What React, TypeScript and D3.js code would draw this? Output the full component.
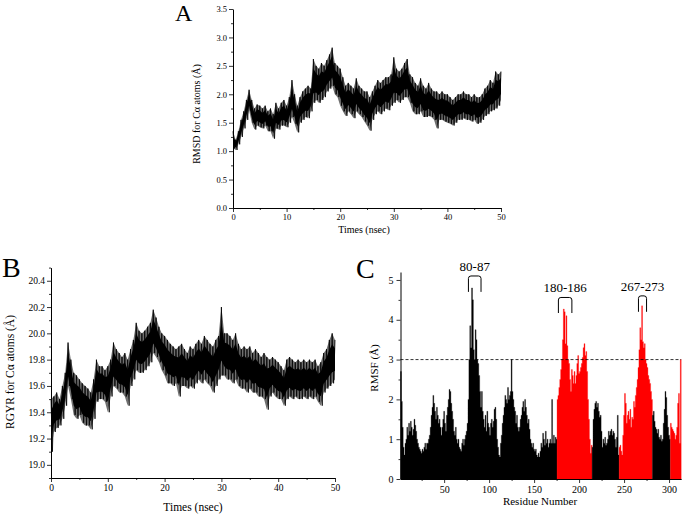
import React, { useEffect, useRef } from "react";
import * as d3 from "d3";

const FONT = "'Liberation Serif', 'Times New Roman', serif";

// ---- Panel A: RMSD local maxima (at t) and minima (at t + 0.25 ns), every 0.5 ns ----
const timeStep = 0.5;
const rmsdHi = [
  1.35, 1.20, 1.35, 1.55, 1.70, 1.90, 2.08, 1.90, 1.75, 1.82,
  1.80, 1.75, 1.80, 1.70, 1.75, 1.65, 1.85, 1.75, 1.85, 1.90,
  1.80, 1.95, 2.25, 2.00, 1.80, 1.95, 2.05, 2.10, 2.15, 2.10,
  2.62, 2.50, 2.45, 2.55, 2.50, 2.60, 2.70, 2.82, 2.55, 2.50,
  2.45, 2.30, 2.15, 2.20, 2.15, 2.10, 2.28, 2.15, 2.10, 2.05,
  2.05, 1.95, 2.05, 2.15, 2.25, 2.20, 2.25, 2.30, 2.30, 2.35,
  2.65, 2.45, 2.40, 2.45, 2.55, 2.62, 2.35, 2.30, 2.20, 2.15,
  2.28, 2.15, 2.10, 2.20, 2.10, 2.05, 2.05, 2.00, 2.05, 2.00,
  2.00, 1.95, 1.90, 1.95, 2.00, 2.00, 2.05, 2.00, 2.00, 1.95,
  2.00, 1.95, 1.95, 2.00, 2.10, 2.15, 2.25, 2.20, 2.40, 2.35,
  2.40,
];
const rmsdLo = [
  1.05, 1.02, 1.12, 1.25, 1.40, 1.55, 1.72, 1.50, 1.38, 1.45,
  1.42, 1.40, 1.45, 1.35, 1.35, 1.22, 1.40, 1.38, 1.45, 1.45,
  1.42, 1.50, 1.60, 1.48, 1.33, 1.50, 1.55, 1.60, 1.58, 1.70,
  1.85, 1.90, 1.85, 1.90, 1.95, 2.05, 2.10, 2.15, 2.00, 1.95,
  1.80, 1.70, 1.62, 1.70, 1.65, 1.58, 1.70, 1.65, 1.60, 1.52,
  1.45, 1.36, 1.55, 1.65, 1.70, 1.65, 1.70, 1.75, 1.72, 1.80,
  1.85, 1.90, 1.85, 1.90, 1.95, 1.95, 1.85, 1.70, 1.65, 1.65,
  1.70, 1.60, 1.60, 1.62, 1.60, 1.55, 1.40, 1.55, 1.55, 1.52,
  1.50, 1.48, 1.45, 1.50, 1.55, 1.55, 1.58, 1.55, 1.55, 1.52,
  1.55, 1.48, 1.50, 1.55, 1.62, 1.65, 1.70, 1.72, 1.75, 1.80,
  1.90,
];

// ---- Panel B: RGYR local maxima / minima, every 0.5 ns ----
const rgyrHi = [
  19.50, 19.52, 19.55, 19.50, 19.60, 19.70, 19.93, 19.80, 19.70, 19.68,
  19.65, 19.62, 19.60, 19.58, 19.55, 19.65, 19.80, 19.75, 19.75, 19.72,
  19.75, 19.80, 19.93, 19.88, 19.85, 19.82, 19.85, 19.80, 19.88, 19.95,
  20.08, 20.02, 20.00, 20.02, 20.05, 20.08, 20.18, 20.12, 20.05, 20.00,
  19.98, 19.95, 19.92, 19.90, 19.88, 19.90, 19.92, 19.88, 19.85, 19.90,
  19.88, 19.92, 19.95, 19.92, 19.98, 19.95, 19.92, 19.90, 19.95, 19.98,
  20.20, 20.00, 20.00, 19.98, 19.95, 20.00, 19.92, 19.88, 19.90, 19.88,
  19.90, 19.85, 19.88, 19.85, 19.82, 19.85, 19.82, 19.80, 19.82, 19.80,
  19.78, 19.75, 19.72, 19.80, 19.82, 19.80, 19.78, 19.80, 19.78, 19.80,
  19.78, 19.80, 19.78, 19.80, 19.75, 19.78, 19.85, 19.88, 19.95, 20.00,
  19.95,
];
const rgyrLo = [
  19.10, 19.25, 19.28, 19.30, 19.35, 19.45, 19.60, 19.50, 19.38, 19.35,
  19.38, 19.32, 19.30, 19.30, 19.27, 19.35, 19.48, 19.50, 19.50, 19.48,
  19.40, 19.52, 19.60, 19.58, 19.55, 19.55, 19.52, 19.45, 19.60, 19.65,
  19.72, 19.70, 19.70, 19.72, 19.75, 19.78, 19.85, 19.82, 19.78, 19.72,
  19.68, 19.62, 19.62, 19.60, 19.62, 19.52, 19.60, 19.60, 19.58, 19.60,
  19.58, 19.62, 19.65, 19.62, 19.65, 19.62, 19.60, 19.55, 19.60, 19.65,
  19.68, 19.68, 19.65, 19.65, 19.62, 19.65, 19.60, 19.58, 19.58, 19.55,
  19.58, 19.55, 19.55, 19.52, 19.52, 19.50, 19.42, 19.52, 19.55, 19.52,
  19.50, 19.50, 19.45, 19.50, 19.52, 19.50, 19.52, 19.50, 19.50, 19.52,
  19.50, 19.52, 19.50, 19.52, 19.48, 19.45, 19.55, 19.58, 19.60, 19.62,
  19.65,
];

// ---- Panel C: RMSF per residue, starting at residue 2 ----
const rmsfStart = 2;
const rmsf = [
  2.7, 1.95, 1.3, 0.8, 0.6, 0.9, 1.0, 1.3, 1.1, 1.4,
  1.2, 1.45, 1.3, 1.1, 1.25, 1.5, 1.35, 1.2, 1.0, 0.9,
  0.8, 0.75, 0.7, 0.65, 0.75, 0.7, 0.8, 0.9, 0.75, 0.9,
  0.9, 1.0, 1.1, 1.3, 1.6, 1.8, 2.1, 1.9, 1.7, 1.5,
  1.8, 1.6, 1.4, 1.5, 1.3, 1.1, 1.3, 1.5, 1.7, 1.4,
  1.2, 1.6, 1.8, 2.0, 2.25, 2.2, 1.9, 1.7, 1.5, 1.2,
  1.1, 1.3, 1.0, 0.9, 1.0, 0.8, 0.75, 0.7, 0.9, 1.0,
  0.85, 1.0, 1.1, 1.2, 1.4,
  2.0, 3.0, 3.85, 3.3, 4.8, 4.5, 3.25, 3.0, 3.75, 3.5,
  3.0, 2.9, 2.6, 2.2, 1.8,
  2.2, 1.7, 1.5, 1.3, 1.6, 1.2, 1.7, 1.4, 1.3, 1.1,
  1.4, 1.5, 1.3, 1.45, 1.75, 1.8, 1.5, 1.0, 0.8, 0.6,
  0.55, 0.9, 1.1, 1.4, 1.6, 1.8, 2.1, 2.0, 1.9, 2.3,
  2.0, 2.1, 2.2, 3.0, 2.2, 2.0, 1.8, 1.7, 1.4, 1.6,
  1.3, 1.2, 1.3, 1.5, 1.6, 1.8, 1.95, 1.7, 2.0, 1.8,
  1.6, 1.4, 1.5, 1.25, 1.0, 0.9, 0.8, 0.9, 0.75, 0.7,
  0.75, 0.6, 0.55, 0.65, 0.55, 0.7, 0.9, 0.8, 1.15, 1.0,
  0.85, 1.2, 0.9, 1.0, 0.8, 0.9, 1.0, 0.9, 2.0, 0.9,
  1.1, 0.9, 1.05, 1.0,
  2.0, 2.1, 2.3, 2.5, 2.75, 3.0, 3.5, 4.27, 4.2, 3.4,
  4.1, 3.35, 3.0, 2.9, 2.5, 2.2, 2.75, 2.6, 2.4, 2.7,
  2.4, 2.6, 2.9, 3.1, 2.65, 2.7, 2.8, 2.9, 3.05, 3.3,
  3.4, 3.1, 3.2, 2.7, 2.0, 1.5, 1.0, 0.65, 0.85, 0.8,
  1.5, 1.75, 1.9, 1.95, 1.8, 1.9, 1.7, 1.55, 1.6, 1.2,
  0.8, 1.0, 0.9, 1.05, 0.85, 0.9, 1.0, 1.2, 1.1, 1.2,
  1.25, 1.1, 1.2, 1.15, 1.0, 0.8, 1.05, 1.6, 0.6,
  0.8, 0.85, 0.7, 0.6, 1.1, 1.6, 2.15, 1.9, 1.4, 1.6,
  1.7, 1.5, 1.75, 1.3, 1.55, 1.5, 1.95, 1.8, 2.1, 2.3,
  2.5, 2.8, 3.25, 3.8, 3.5, 4.35, 3.45, 3.3, 3.4, 3.0,
  2.9, 2.8, 2.6, 2.5, 2.4, 2.2, 2.0,
  1.6, 1.7, 1.45, 1.3, 1.25, 1.15, 1.25, 1.05, 1.0, 1.1,
  0.95, 1.0, 1.4, 1.75, 2.2, 2.05, 1.6, 1.3, 1.1, 1.0,
  1.4, 1.3, 1.25, 1.2, 1.15, 1.0, 1.1, 1.3, 1.9, 2.15, 0.9, 3.0,
];
const redRanges: [number, number][] = [
  [176, 214],
  [245, 281],
  [302, 313],
];
const rmsfThreshold = 3;
const annLabels = ["80-87", "180-186", "267-273"];
const annFrom = [77, 177, 266];
const annTo = [91, 192, 275];
const annTop = [5.1, 4.56, 4.6];
const annLeg = [4.7, 4.17, 4.2];
const annText = [5.23, 4.7, 4.72];

const timeTicks = [0, 10, 20, 30, 40, 50];
const timeMinor = [5, 15, 25, 35, 45];
const rmsdTicks = [0, 0.5, 1, 1.5, 2, 2.5, 3, 3.5];
const rmsdMinor = [0.25, 0.75, 1.25, 1.75, 2.25, 2.75, 3.25];
const rgyrTicks = [19.0, 19.2, 19.4, 19.6, 19.8, 20.0, 20.2, 20.4];
const rgyrMinor = [18.9, 19.1, 19.3, 19.5, 19.7, 19.9, 20.1, 20.3, 20.5];
const rmsfYTicks = [0, 1, 2, 3, 4, 5];
const rmsfYMinor = [0.5, 1.5, 2.5, 3.5, 4.5];
const residueTicks = [50, 100, 150, 200, 250, 300];
const residueMinor = [25, 75, 125, 175, 225, 275];

type Sel = d3.Selection<SVGGElement, unknown, null, undefined>;

function styleAxis(g: Sel, fs: number) {
  g.attr("font-family", FONT).attr("font-size", fs);
  g.selectAll("text").attr("fill", "#000");
  g.selectAll("line").attr("stroke", "#000").attr("stroke-width", 0.8);
  g.select(".domain").attr("stroke", "#000").attr("stroke-width", 1);
}

function minorAxis(g: Sel) {
  g.select(".domain").remove();
  g.selectAll("line").attr("stroke", "#000").attr("stroke-width", 0.8);
}

function drawTrace(
  root: d3.Selection<SVGSVGElement, unknown, null, undefined>,
  o: {
    hi: number[]; lo: number[]; xr: [number, number]; yd: [number, number]; yr: [number, number];
    yTicks: number[]; yMinor: number[]; fmt: string; tickFs: number; titleFs: number;
    yTitle: string; yTitleX: number; yTitleY: number; xTitleX: number; xTitleY: number;
    letter: string; letterX: number; letterY: number; letterFs: number;
  }
) {
  const g = root.append("g");
  const x = d3.scaleLinear().domain([0, 50]).range(o.xr);
  const y = d3.scaleLinear().domain(o.yd).range(o.yr);
  const idx = o.hi.map((_, i) => i);
  const t = (i: number) => i * timeStep;

  // outer fringe band (grey)
  const outer = d3.area<number>().x((i) => x(t(i))).y0((i) => y(o.lo[i])).y1((i) => y(o.hi[i]));
  g.append("path").attr("d", outer(idx)!).attr("fill", "#707070");

  // noisy trace: maxima at t, minima at t + step/2
  const pts: [number, number][] = [];
  idx.forEach((i) => {
    pts.push([t(i), o.hi[i]]);
    if (i < idx.length - 1) pts.push([t(i) + timeStep / 2, o.lo[i]]);
  });
  const line = d3.line<[number, number]>().x((d) => x(d[0])).y((d) => y(d[1]));
  g.append("path").attr("d", line(pts)!).attr("fill", "none").attr("stroke", "#000")
    .attr("stroke-width", 0.8).attr("stroke-linejoin", "miter").attr("stroke-miterlimit", 2);

  // dense core of the band
  const inner = d3.area<number>().x((i) => x(t(i)))
    .y0((i) => y(o.lo[i] + (o.hi[i] - o.lo[i]) * 0.22))
    .y1((i) => y(o.hi[i] - (o.hi[i] - o.lo[i]) * 0.22));
  g.append("path").attr("d", inner(idx)!).attr("fill", "#000");

  const ax = g.append("g").attr("transform", `translate(0,${o.yr[0]})`);
  ax.call(d3.axisBottom(x).tickValues(timeTicks).tickSize(4).tickSizeOuter(0).tickPadding(2).tickFormat(d3.format("d")) as any);
  styleAxis(ax as any, o.tickFs);
  const axm = g.append("g").attr("transform", `translate(0,${o.yr[0]})`);
  axm.call(d3.axisBottom(x).tickValues(timeMinor).tickSize(2).tickFormat(() => "") as any);
  minorAxis(axm as any);

  const ay = g.append("g").attr("transform", `translate(${o.xr[0]},0)`);
  ay.call(d3.axisLeft(y).tickValues(o.yTicks).tickSize(4).tickSizeOuter(0).tickPadding(2).tickFormat(d3.format(o.fmt)) as any);
  styleAxis(ay as any, o.tickFs);
  const aym = g.append("g").attr("transform", `translate(${o.xr[0]},0)`);
  aym.call(d3.axisLeft(y).tickValues(o.yMinor).tickSize(2).tickFormat(() => "") as any);
  minorAxis(aym as any);

  g.append("text").attr("x", o.xTitleX).attr("y", o.xTitleY).attr("text-anchor", "middle")
    .attr("font-family", FONT).attr("font-size", o.titleFs).text("Times (nsec)");
  g.append("text").attr("transform", `translate(${o.yTitleX},${o.yTitleY}) rotate(-90)`).attr("text-anchor", "middle")
    .attr("font-family", FONT).attr("font-size", o.titleFs).text(o.yTitle);
  g.append("text").attr("x", o.letterX).attr("y", o.letterY).attr("font-family", FONT)
    .attr("font-size", o.letterFs).text(o.letter);
}

function isRed(r: number) {
  return redRanges.some(([a, b]) => r >= a && r <= b);
}

export default function App() {
  const ref = useRef<SVGSVGElement>(null);
  useEffect(() => {
    const root = d3.select(ref.current!) as d3.Selection<SVGSVGElement, unknown, null, undefined>;
    root.selectAll("*").remove();

    // Panel A
    drawTrace(root, {
      hi: rmsdHi, lo: rmsdLo, xr: [233, 501], yd: [0, 3.5], yr: [208, 9],
      yTicks: rmsdTicks, yMinor: rmsdMinor, fmt: ".1f", tickFs: 8.5, titleFs: 10,
      yTitle: "RMSD for C\u03b1 atoms (\u00c5)", yTitleX: 200, yTitleY: 114, xTitleX: 364, xTitleY: 233,
      letter: "A", letterX: 175, letterY: 21, letterFs: 24,
    });

    // Panel B
    drawTrace(root, {
      hi: rgyrHi, lo: rgyrLo, xr: [51, 335], yd: [18.9, 20.5], yr: [478, 267.6],
      yTicks: rgyrTicks, yMinor: rgyrMinor, fmt: ".1f", tickFs: 9.5, titleFs: 11.5,
      yTitle: "RGYR for C\u03b1 atoms (\u00c5)", yTitleX: 14, yTitleY: 372, xTitleX: 193, xTitleY: 511,
      letter: "B", letterX: 2, letterY: 277, letterFs: 28,
    });

    // Panel C
    const g = root.append("g");
    const x = d3.scaleLinear().domain([rmsfStart - 0.5, rmsfStart + rmsf.length - 0.5]).range([400.5, 681.2]);
    const y = d3.scaleLinear().domain([0, 5.2]).range([479, 272]);
    const runs: { red: boolean; idx: number[] }[] = [];
    rmsf.forEach((_, i) => {
      const red = isRed(rmsfStart + i);
      const last = runs[runs.length - 1];
      if (last && last.red === red) last.idx.push(i);
      else runs.push({ red, idx: [i] });
    });
    const stepArea = d3.area<[number, number]>().curve(d3.curveStepAfter)
      .x((d) => x(d[0])).y0(y(0)).y1((d) => y(d[1]));
    runs.forEach((run) => {
      const pts: [number, number][] = run.idx.map((i) => [rmsfStart + i - 0.5, rmsf[i]]);
      const lastI = run.idx[run.idx.length - 1];
      pts.push([rmsfStart + lastI + 0.5, rmsf[lastI]]);
      g.append("path").attr("d", stepArea(pts)!).attr("fill", run.red ? "#ff0000" : "#000")
        .attr("stroke", run.red ? "#ff0000" : "#000").attr("stroke-width", 0.3);
    });
    g.append("line").attr("x1", x.range()[0]).attr("x2", x.range()[1])
      .attr("y1", y(rmsfThreshold)).attr("y2", y(rmsfThreshold))
      .attr("stroke", "#000").attr("stroke-width", 0.8).attr("stroke-dasharray", "3,2");

    const ax = g.append("g").attr("transform", `translate(0,${y(0)})`);
    ax.call(d3.axisBottom(x).tickValues(residueTicks).tickSize(4).tickSizeOuter(0).tickPadding(3).tickFormat(d3.format("d")) as any);
    styleAxis(ax as any, 10);
    const axm = g.append("g").attr("transform", `translate(0,${y(0)})`);
    axm.call(d3.axisBottom(x).tickValues(residueMinor).tickSize(2).tickFormat(() => "") as any);
    minorAxis(axm as any);

    const ay = g.append("g").attr("transform", `translate(${x.range()[0]},0)`);
    ay.call(d3.axisLeft(y).tickValues(rmsfYTicks).tickSize(4).tickSizeOuter(0).tickPadding(3).tickFormat(d3.format("d")) as any);
    styleAxis(ay as any, 10);
    const aym = g.append("g").attr("transform", `translate(${x.range()[0]},0)`);
    aym.call(d3.axisLeft(y).tickValues(rmsfYMinor).tickSize(2).tickFormat(() => "") as any);
    minorAxis(aym as any);

    annLabels.forEach((lab, i) => {
      const x0 = x(annFrom[i]), x1 = x(annTo[i]);
      const yt = y(annTop[i]), yl = y(annLeg[i]);
      const r = 2.5;
      g.append("path")
        .attr("d", `M${x0},${yl} L${x0},${yt + r} Q${x0},${yt} ${x0 + r},${yt} L${x1 - r},${yt} Q${x1},${yt} ${x1},${yt + r} L${x1},${yl}`)
        .attr("fill", "none").attr("stroke", "#000").attr("stroke-width", 1);
      g.append("text").attr("x", (x0 + x1) / 2).attr("y", y(annText[i])).attr("text-anchor", "middle")
        .attr("font-family", FONT).attr("font-size", 13).text(lab);
    });

    g.append("text").attr("x", 540).attr("y", 505).attr("text-anchor", "middle")
      .attr("font-family", FONT).attr("font-size", 11).text("Residue Number");
    g.append("text").attr("transform", `translate(378,368) rotate(-90)`).attr("text-anchor", "middle")
      .attr("font-family", FONT).attr("font-size", 11).text("RMSF (\u00c5)");
    g.append("text").attr("x", 356).attr("y", 278).attr("font-family", FONT).attr("font-size", 28).text("C");
  }, []);
  return (
    <svg ref={ref} width={683} height={515} style={{ position: "absolute", left: 0, top: 0, background: "#fff" }} />
  );
}
